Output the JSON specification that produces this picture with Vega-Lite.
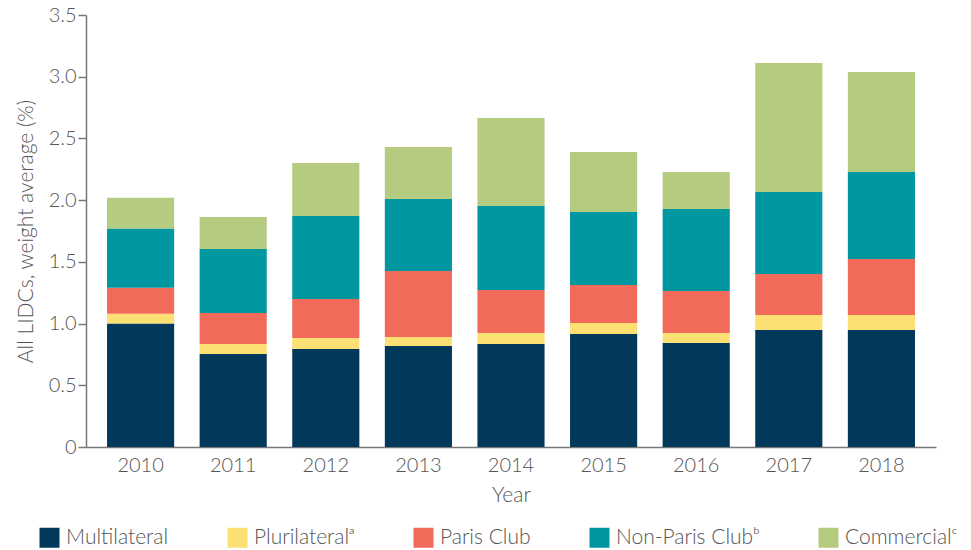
{
  "$schema": "https://vega.github.io/schema/vega-lite/v6.json",
  "width": 850,
  "height": 432,
  "autosize": {"type": "none"},
  "padding": {"left": 86, "top": 15, "right": 35, "bottom": 103},
  "background": "white",
  "config": {
    "view": {"stroke": null},
    "font": "Lato",
    "axis": {"labelFont": "Lato", "titleFont": "Lato", "labelColor": "#555", "titleColor": "#555", "labelFontWeight": 300, "titleFontWeight": 300, "domainColor": "#777", "tickColor": "#777", "domainWidth": 1.5, "tickWidth": 1.5},
    "legend": {"labelFont": "Lato", "labelColor": "#555", "labelFontWeight": 300}
  },
  "data": {
    "values": [
      {"year": "2010", "type": "Multilateral", "value": 1.0},
      {"year": "2010", "type": "Plurilateral", "value": 0.08},
      {"year": "2010", "type": "Paris Club", "value": 0.21},
      {"year": "2010", "type": "Non-Paris Club", "value": 0.48},
      {"year": "2010", "type": "Commercial", "value": 0.25},
      {"year": "2011", "type": "Multilateral", "value": 0.754},
      {"year": "2011", "type": "Plurilateral", "value": 0.081},
      {"year": "2011", "type": "Paris Club", "value": 0.251},
      {"year": "2011", "type": "Non-Paris Club", "value": 0.519},
      {"year": "2011", "type": "Commercial", "value": 0.259},
      {"year": "2012", "type": "Multilateral", "value": 0.794},
      {"year": "2012", "type": "Plurilateral", "value": 0.089},
      {"year": "2012", "type": "Paris Club", "value": 0.316},
      {"year": "2012", "type": "Non-Paris Club", "value": 0.673},
      {"year": "2012", "type": "Commercial", "value": 0.428},
      {"year": "2013", "type": "Multilateral", "value": 0.818},
      {"year": "2013", "type": "Plurilateral", "value": 0.073},
      {"year": "2013", "type": "Paris Club", "value": 0.535},
      {"year": "2013", "type": "Non-Paris Club", "value": 0.584},
      {"year": "2013", "type": "Commercial", "value": 0.421},
      {"year": "2014", "type": "Multilateral", "value": 0.835},
      {"year": "2014", "type": "Plurilateral", "value": 0.089},
      {"year": "2014", "type": "Paris Club", "value": 0.348},
      {"year": "2014", "type": "Non-Paris Club", "value": 0.681},
      {"year": "2014", "type": "Commercial", "value": 0.713},
      {"year": "2015", "type": "Multilateral", "value": 0.916},
      {"year": "2015", "type": "Plurilateral", "value": 0.089},
      {"year": "2015", "type": "Paris Club", "value": 0.308},
      {"year": "2015", "type": "Non-Paris Club", "value": 0.591},
      {"year": "2015", "type": "Commercial", "value": 0.486},
      {"year": "2016", "type": "Multilateral", "value": 0.843},
      {"year": "2016", "type": "Plurilateral", "value": 0.081},
      {"year": "2016", "type": "Paris Club", "value": 0.34},
      {"year": "2016", "type": "Non-Paris Club", "value": 0.665},
      {"year": "2016", "type": "Commercial", "value": 0.299},
      {"year": "2017", "type": "Multilateral", "value": 0.948},
      {"year": "2017", "type": "Plurilateral", "value": 0.122},
      {"year": "2017", "type": "Paris Club", "value": 0.332},
      {"year": "2017", "type": "Non-Paris Club", "value": 0.664},
      {"year": "2017", "type": "Commercial", "value": 1.046},
      {"year": "2018", "type": "Multilateral", "value": 0.948},
      {"year": "2018", "type": "Plurilateral", "value": 0.122},
      {"year": "2018", "type": "Paris Club", "value": 0.453},
      {"year": "2018", "type": "Non-Paris Club", "value": 0.705},
      {"year": "2018", "type": "Commercial", "value": 0.811}
    ]
  },
  "transform": [
    {"calculate": "indexof(['Multilateral','Plurilateral','Paris Club','Non-Paris Club','Commercial'], datum.type)", "as": "k"}
  ],
  "mark": {"type": "bar"},
  "encoding": {
    "x": {
      "field": "year", "type": "nominal", "title": "Year",
      "scale": {"paddingInner": 0.275, "paddingOuter": 0.227},
      "axis": {"labelAngle": 0, "ticks": false, "labelFontSize": 20, "titleFontSize": 21, "labelPadding": 8, "titlePadding": 9}
    },
    "y": {
      "field": "value", "type": "quantitative", "aggregate": "sum", "stack": "zero",
      "title": "All LIDCs, weight average (%)",
      "scale": {"domain": [0, 3.5], "nice": false},
      "axis": {"values": [0, 0.5, 1, 1.5, 2, 2.5, 3, 3.5], "grid": false, "tickSize": 8, "labelFontSize": 20, "titleFontSize": 21, "labelPadding": 2, "titlePadding": 12, "labelExpr": "datum.value == 0 ? '0' : format(datum.value, '.1f')"}
    },
    "color": {
      "field": "type", "type": "nominal",
      "scale": {
        "domain": ["Multilateral", "Plurilateral", "Paris Club", "Non-Paris Club", "Commercial"],
        "range": ["#02395B", "#FDE074", "#F26B5A", "#0097A1", "#B4CB80"]
      },
      "legend": {
        "title": null, "orient": "none", "direction": "horizontal", "legendX": -47, "legendY": 512,
        "symbolType": "square", "symbolSize": 400, "symbolStrokeWidth": 0, "labelFontSize": 21,
        "columnPadding": 58, "labelOffset": 6,
        "labelExpr": "datum.label == 'Plurilateral' ? 'Plurilateralᵃ' : datum.label == 'Non-Paris Club' ? 'Non-Paris Clubᵇ' : datum.label == 'Commercial' ? 'Commercialᶜ' : datum.label"
      }
    },
    "order": {"field": "k", "type": "quantitative", "sort": "ascending"}
  }
}
